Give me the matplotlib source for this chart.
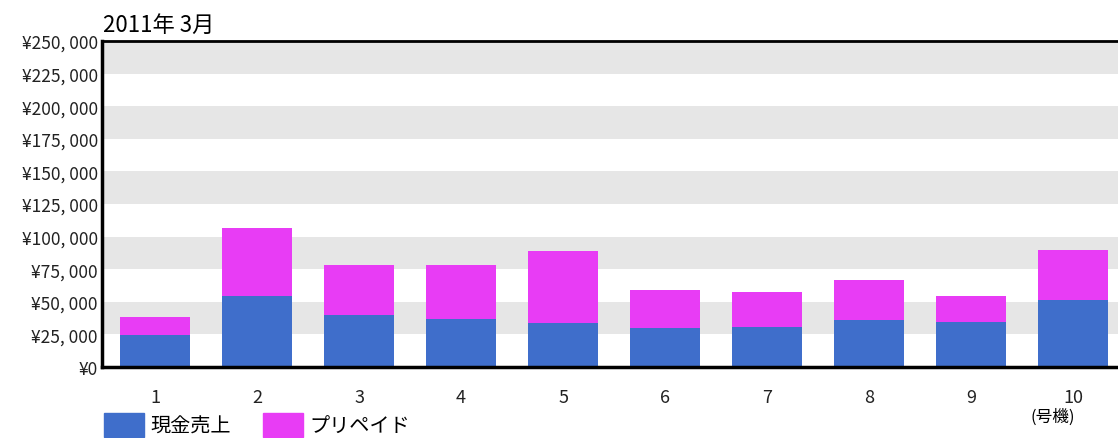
import matplotlib.pyplot as plt
from matplotlib.patches import Patch
from matplotlib.ticker import FuncFormatter, MultipleLocator

plt.rcParams['font.family'] = ['Noto Sans CJK JP', 'DejaVu Sans']

# 号機ごとの売上 (2011年3月)
machines = ['1', '2', '3', '4', '5', '6', '7', '8', '9', '10']
cash = [24800, 54200, 39600, 36600, 34000, 30200, 30900, 35800, 34300, 51400]
prepaid = [13300, 52200, 38600, 41900, 54700, 28800, 26800, 30700, 19900, 38600]
series_names = ['現金売上', 'プリペイド']
colors = ['#3F6ECB', '#E83CF5']

fig = plt.figure(figsize=(11.18, 4.39), dpi=100)
ax = fig.add_axes([0.0912, 0.1617, 0.9088, 0.7426])

x = list(range(1, len(machines) + 1))
ax.bar(x, cash, width=0.68, color=colors[0], zorder=2)
ax.bar(x, prepaid, width=0.68, bottom=cash, color=colors[1], zorder=2)

# 背景の縞模様
for lo in range(25000, 250000, 50000):
    ax.axhspan(lo, lo + 25000, color='#E6E6E6', lw=0, zorder=0)

ax.set_ylim(0, 250000)
ax.set_xlim(0.48, 10.44)
ax.yaxis.set_major_locator(MultipleLocator(25000))
ax.yaxis.set_major_formatter(FuncFormatter(lambda v, p: f'¥{int(v):,}'.replace(',', ', ')))
ax.set_xticks(x)
ax.set_xticklabels(machines)
ax.tick_params(axis='both', length=0, colors='#222222')
ax.tick_params(axis='x', pad=15, labelsize=13)
ax.tick_params(axis='y', pad=3, labelsize=12.5)

ax.spines['right'].set_visible(False)
ax.spines['left'].set_linewidth(2.5)
ax.spines['bottom'].set_linewidth(2.5)
ax.spines['top'].set_linewidth(2)

fig.text(0.092, 0.915, '2011年 3月', fontsize=16, ha='left', va='bottom')
ax.text(9.8, -0.125, '(号機)', transform=ax.get_xaxis_transform(),
        ha='center', va='top', fontsize=12)

handles = [Patch(color=c) for c in colors]
fig.legend(handles, series_names, loc='lower left', bbox_to_anchor=(104 / 1118, 1 / 439),
           ncol=2, frameon=False, fontsize=14.5, handlelength=2.0, handleheight=1.45,
           handletextpad=0.3, columnspacing=1.6, borderpad=0, borderaxespad=0)

fig.savefig('out.png', dpi=100)
